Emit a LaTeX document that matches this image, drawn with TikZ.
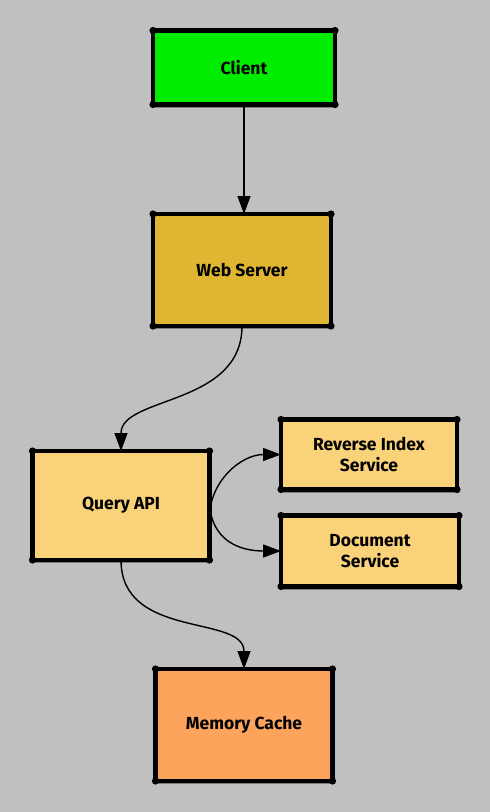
\documentclass[tikz,border=0pt]{standalone}
\usepackage{fontspec}
\setmainfont{Fira Sans}
\usetikzlibrary{arrows.meta,shadows}
\definecolor{bg}{RGB}{192,192,192}
\definecolor{cgreen}{RGB}{0,236,0}
\definecolor{cgold}{RGB}{223,182,50}
\definecolor{clight}{RGB}{250,210,122}
\definecolor{corange}{RGB}{252,164,92}
\tikzset{
  box/.style={draw=black, line width=4.5pt, rectangle, outer sep=0pt, align=center,
    font=\fontsize{17.5}{21}\selectfont\bfseries,
    drop shadow={shadow xshift=2pt, shadow yshift=-3pt, opacity=.35, fill=black}},
  conn/.style={line width=1.4pt, -{Triangle[length=18pt,width=13pt]}}
}
\begin{document}
\begin{tikzpicture}[x=1pt,y=-1pt]
\fill[bg] (0,0) rectangle (490,812);
\useasboundingbox (0,0) rectangle (490,812);
\node[box, fill=cgreen, minimum width=182pt, minimum height=74pt] (client) at (244,67.5) {Client};
\node[box, fill=cgold, minimum width=178pt, minimum height=112pt] (web) at (242,270) {Web Server};
\node[box, fill=clight, minimum width=177pt, minimum height=109pt] (query) at (121,505.5) {Query API};
\node[box, fill=clight, minimum width=176pt, minimum height=70pt] (rev) at (369,454.5) {Reverse Index\\Service};
\node[box, fill=clight, minimum width=178pt, minimum height=71pt] (doc) at (370,551) {Document\\Service};
\node[box, fill=corange, minimum width=177pt, minimum height=112pt] (mem) at (244,725) {Memory Cache};
\foreach \n in {client,web,query,rev,doc,mem}
  \foreach \a in {north west,north east,south west,south east}
    \fill (\n.\a) circle (3.6);
\draw[conn] (client.south) -- (client.south |- web.north);
\draw[conn] (web.south) .. controls +(0,80) and +(0,-55) .. (query.north);
\draw[conn] ([yshift=-12pt]query.east) .. controls +(0,-36) and +(-40,0) .. (rev.west);
\draw[conn] ([yshift=6pt]query.east) .. controls +(0,42) and +(-40,0) .. (doc.west);
\draw[conn] (query.south) .. controls +(0,80) and +(0,-55) .. (mem.north);
\end{tikzpicture}
\end{document}
